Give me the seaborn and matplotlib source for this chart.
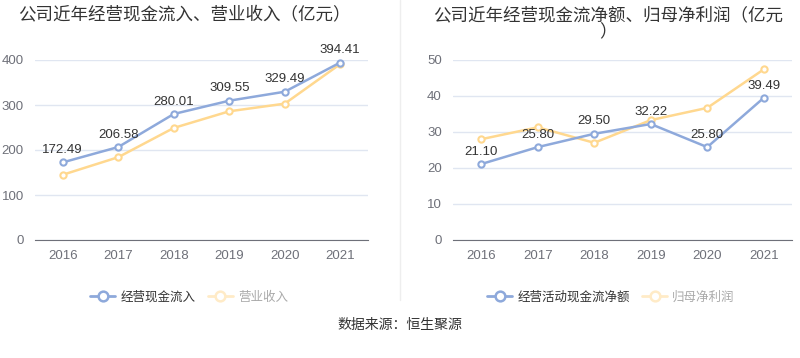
import matplotlib
matplotlib.use("Agg")
import matplotlib.pyplot as plt
from matplotlib.lines import Line2D
import seaborn as sns
import pandas as pd

# data
years = ["2016", "2017", "2018", "2019", "2020", "2021"]
cash_inflow = [172.49, 206.58, 280.01, 309.55, 329.49, 394.41]
revenue = [145, 184, 249, 286, 303, 391]
net_cash_flow = [21.10, 25.80, 29.50, 32.22, 25.80, 39.49]
net_profit = [28.0, 31.3, 27.0, 33.3, 36.7, 47.4]

left_title = "公司近年经营现金流入、营业收入（亿元）"
right_title = "公司近年经营现金流净额、归母净利润（亿元\n）"
left_names = ["经营现金流入", "营业收入"]
right_names = ["经营活动现金流净额", "归母净利润"]
source = "数据来源：恒生聚源"

BLUE = "#8EA9DB"
YELLOW = "#FFD88F"
GRID = "#E0E6F1"
AXIS = "#6E7079"
NUM_FONT = ['Liberation Sans', 'DejaVu Sans']

sns.set_style("white")
plt.rcParams['font.family'] = ['Noto Sans CJK SC', 'DejaVu Sans']

fig = plt.figure(figsize=(8, 3.58), dpi=100)
ax1 = fig.add_axes([35 / 800, 1 - 240 / 358, 333 / 800, 180 / 358])
ax2 = fig.add_axes([453 / 800, 1 - 240 / 358, 339 / 800, 180 / 358])


def draw(ax, main, other, ymax, step, labels):
    df = pd.DataFrame({"year": years, "main": main, "other": other})
    df["x"] = range(len(years))
    for col, color, z in [("other", YELLOW, 2), ("main", BLUE, 3)]:
        sns.lineplot(data=df, x="x", y=col, ax=ax, color=color, lw=1.8,
                     marker="o", markersize=4.5, markerfacecolor="white",
                     markeredgecolor=color, markeredgewidth=1.5, zorder=z,
                     clip_on=False)
    for i, v in enumerate(main):
        ax.text(i, v + ymax * 0.035, labels[i], ha="center", va="bottom",
                fontsize=9.5, color="#333333", family=NUM_FONT)
    ax.set_xlim(-0.5, len(years) - 0.5)
    ax.set_ylim(0, ymax)
    ax.set_yticks(range(0, ymax + 1, step))
    ax.set_xticks(range(len(years)))
    ax.set_xticklabels(years)
    ax.set_xlabel("")
    ax.set_ylabel("")
    ax.grid(axis="y", color=GRID, lw=1)
    ax.set_axisbelow(True)
    for s in ["top", "right", "left"]:
        ax.spines[s].set_visible(False)
    ax.spines["bottom"].set_color(AXIS)
    ax.tick_params(axis="x", length=4, color=AXIS, labelcolor=AXIS, labelsize=9.5, pad=3)
    ax.tick_params(axis="y", length=0, labelcolor=AXIS, labelsize=9.5, pad=8)
    for t in ax.get_xticklabels() + ax.get_yticklabels():
        t.set_family(NUM_FONT)


draw(ax1, cash_inflow, revenue, 400, 100, [f"{v:.2f}" for v in cash_inflow])
draw(ax2, net_cash_flow, net_profit, 50, 10, [f"{v:.2f}" for v in net_cash_flow])

fig.text(18 / 800, 1 - 14 / 358, left_title, ha="left", va="center",
         fontsize=12.6, color="#333333")
fig.text(433 / 800, 1 - 6 / 358, right_title, ha="left", va="top",
         fontsize=12.6, color="#333333", linespacing=0.95, multialignment="center")

# separator
fig.add_artist(Line2D([400 / 800, 400 / 800], [1 - 300 / 358, 1.0],
                      color="#EEEEEE", lw=1))


def legend(names, x):
    handles = [
        Line2D([], [], color=BLUE, lw=2, marker="o", markersize=7,
               markerfacecolor="white", markeredgecolor=BLUE, markeredgewidth=1.8),
        Line2D([], [], color="#FFEBC7", lw=2, marker="o", markersize=7,
               markerfacecolor="white", markeredgecolor="#FFEBC7", markeredgewidth=1.8),
    ]
    leg = fig.legend(handles, names, loc="center", bbox_to_anchor=(x, 1 - 297 / 358),
                     ncol=2, frameon=False, fontsize=9, handlelength=2.0,
                     handletextpad=0.4, columnspacing=1.0)
    leg.get_texts()[0].set_color("#333333")
    leg.get_texts()[1].set_color("#AAAAAA")


legend(left_names, 189 / 800)
legend(right_names, 611 / 800)

fig.text(0.5, 1 - 325 / 358, source, ha="center", va="center",
         fontsize=10, color="#333333")

fig.savefig("out.png", dpi=100)
